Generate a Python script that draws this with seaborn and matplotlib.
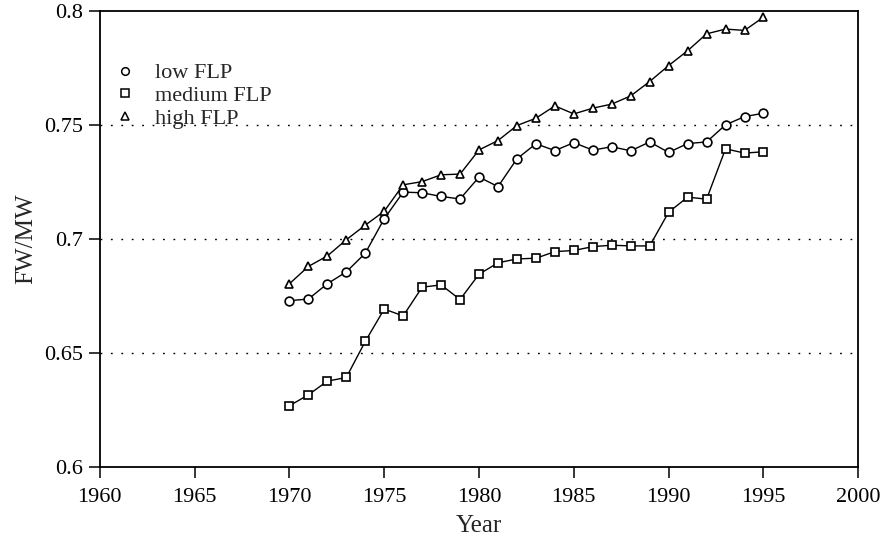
import numpy as np
import pandas as pd
import matplotlib
matplotlib.use("Agg")
import matplotlib.pyplot as plt
import seaborn as sns

years = list(range(1970, 1996))
low_flp = [0.6729, 0.6736, 0.6803, 0.6855, 0.6937, 0.7088, 0.7205, 0.7202, 0.7186, 0.7175,
           0.7271, 0.7229, 0.7351, 0.7417, 0.7387, 0.7422, 0.7389, 0.7404, 0.7386, 0.7425,
           0.7379, 0.7418, 0.7425, 0.7500, 0.7536, 0.7551]
medium_flp = [0.6268, 0.6316, 0.6376, 0.6392, 0.6550, 0.6692, 0.6662, 0.6788, 0.6798, 0.6734,
              0.6845, 0.6895, 0.6912, 0.6915, 0.6944, 0.6949, 0.6966, 0.6972, 0.6969, 0.6969,
              0.7117, 0.7183, 0.7174, 0.7395, 0.7376, 0.7382]
high_flp = [0.6803, 0.6879, 0.6925, 0.6996, 0.7060, 0.7121, 0.7237, 0.7251, 0.7281, 0.7284,
            0.7390, 0.7431, 0.7497, 0.7529, 0.7583, 0.7548, 0.7573, 0.7591, 0.7627, 0.7690,
            0.7760, 0.7825, 0.7899, 0.7920, 0.7914, 0.7972]
groups = ["low FLP", "medium FLP", "high FLP"]

df = pd.DataFrame({
    "Year": years * 3,
    "FW/MW": low_flp + medium_flp + high_flp,
    "group": [groups[0]] * len(years) + [groups[1]] * len(years) + [groups[2]] * len(years),
})

sns.set_style("ticks")
plt.rcParams["font.family"] = ["Liberation Serif", "DejaVu Serif"]

fig, ax = plt.subplots(figsize=(8.83, 5.41), dpi=100)
fig.subplots_adjust(left=0.113, right=0.972, top=0.98, bottom=0.137)

sns.lineplot(data=df, x="Year", y="FW/MW", hue="group", style="group",
             hue_order=groups, style_order=groups,
             palette=["black"] * 3, markers={"low FLP": "o", "medium FLP": "s", "high FLP": "^"},
             dashes=False, lw=1, ms=6.3, mfc="white", mec="black", mew=1.2, ax=ax)

for yv in [0.65, 0.7, 0.75]:
    ax.axhline(yv, color="black", ls=(0, (1.3, 6.2)), lw=1.0, zorder=0)

ax.set_xlim(1960, 2000)
ax.set_ylim(0.6, 0.8)
ax.set_xticks(range(1960, 2001, 5))
ax.set_yticks([0.6, 0.65, 0.7, 0.75, 0.8])
ax.set_yticklabels(["0.6", "0.65", "0.7", "0.75", "0.8"])
ax.tick_params(direction="out", length=8, width=1.1, labelsize=16, colors="black", pad=4)
ax.tick_params(axis="x", pad=7)
for s in ax.spines.values():
    s.set_visible(True)
    s.set_color("black")
    s.set_linewidth(1.3)

ax.set_xlabel("Year", fontsize=18, labelpad=6)
ax.set_ylabel("FW/MW", fontsize=18, labelpad=5)

leg = ax.legend(loc="upper left", bbox_to_anchor=(0.0, 0.92), frameon=False, fontsize=16,
                handlelength=0.9, handletextpad=0.9, labelspacing=0.1, borderaxespad=0.4,
                borderpad=0.3)
for h in leg.legend_handles:
    h.set_linestyle("none")
    h.set_markersize(5.5)
    h.set_markeredgewidth(1.1)

fig.savefig("out.png", dpi=100)
